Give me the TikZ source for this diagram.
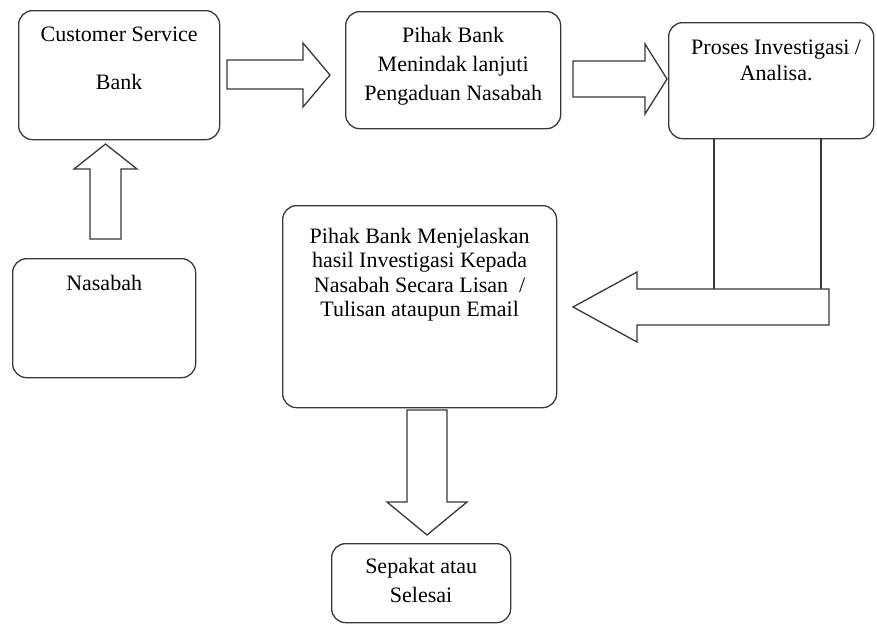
\documentclass[tikz,border=0pt]{standalone}
\usepackage{fontspec}
\setmainfont{Liberation Serif}
\usetikzlibrary{positioning}

\tikzset{
  box/.style={draw=black!78, line width=1.3pt, rounded corners=14pt,
    anchor=north west, inner sep=0pt},
  txt/.style={align=center, inner sep=0pt, anchor=north,
    font=\fontsize{22}{26}\selectfont},
  blockarrow/.style={draw=black!78, line width=1.3pt, fill=white,
    line join=miter}
}

\begin{document}
\begin{tikzpicture}[x=1pt,y=-1pt]
  \useasboundingbox (0,0) rectangle (877,632);

  % boxes
  \node[box, minimum width=201pt, minimum height=129pt] (cs) at (18,10) {};
  \node[box, minimum width=215pt, minimum height=117pt] (pihak) at (345,11) {};
  \node[box, minimum width=205pt, minimum height=116pt] (proses) at (668,22) {};
  \node[box, minimum width=183pt, minimum height=119pt] (nasabah) at (12,258) {};
  \node[box, minimum width=274pt, minimum height=202pt] (jelas) at (282,205) {};
  \node[box, minimum width=179pt, minimum height=79pt] (sepakat) at (331,543) {};

  % texts
  \node[txt, below=17pt of cs.north] (cs-text) {Customer Service\\[22pt]Bank};
  \node[txt, below=16pt of pihak.north, font=\fontsize{22}{29}\selectfont] (pihak-text)
    {Pihak Bank\\Menindak lanjuti\\Pengaduan Nasabah};
  \node[txt, below=18pt of proses.north, xshift=5pt] (proses-text)
    {Proses Investigasi /\\Analisa.};
  \node[txt, below=17pt of nasabah.north] (nasabah-text) {Nasabah};
  \node[txt, below=23pt of jelas.north, font=\fontsize{22}{24.5}\selectfont] (jelas-text)
    {Pihak Bank Menjelaskan\\hasil Investigasi Kepada\\Nasabah Secara Lisan~~/\\Tulisan ataupun Email};
  \node[txt, below=15pt of sepakat.north, font=\fontsize{22}{29}\selectfont] (sepakat-text)
    {Sepakat atau\\Selesai};

  % block arrows
  \draw[blockarrow] (227,60) -- (303,60) -- (303,43) -- (330,75)
    -- (303,107) -- (303,89) -- (227,89) -- cycle;
  \draw[blockarrow] (573,61) -- (645,61) -- (645,44) -- (667,79)
    -- (645,114) -- (645,97) -- (573,97) -- cycle;
  \draw[blockarrow] (90,239) -- (90,169) -- (74,169) -- (105.5,144)
    -- (137,169) -- (121,169) -- (121,239) -- cycle;
  \draw[blockarrow] (407,410) -- (447,410) -- (447,502) -- (467,502)
    -- (427,535) -- (387,502) -- (407,502) -- cycle;

  % bent arrow from the investigation back to the customer
  \draw[blockarrow] (714,138) -- (714,289);
  \draw[blockarrow] (821,138) -- (821,289);
  \draw[blockarrow] (829,289) -- (637,289) -- (637,272) -- (573,307)
    -- (637,342) -- (637,325) -- (829,325) -- cycle;
\end{tikzpicture}
\end{document}
